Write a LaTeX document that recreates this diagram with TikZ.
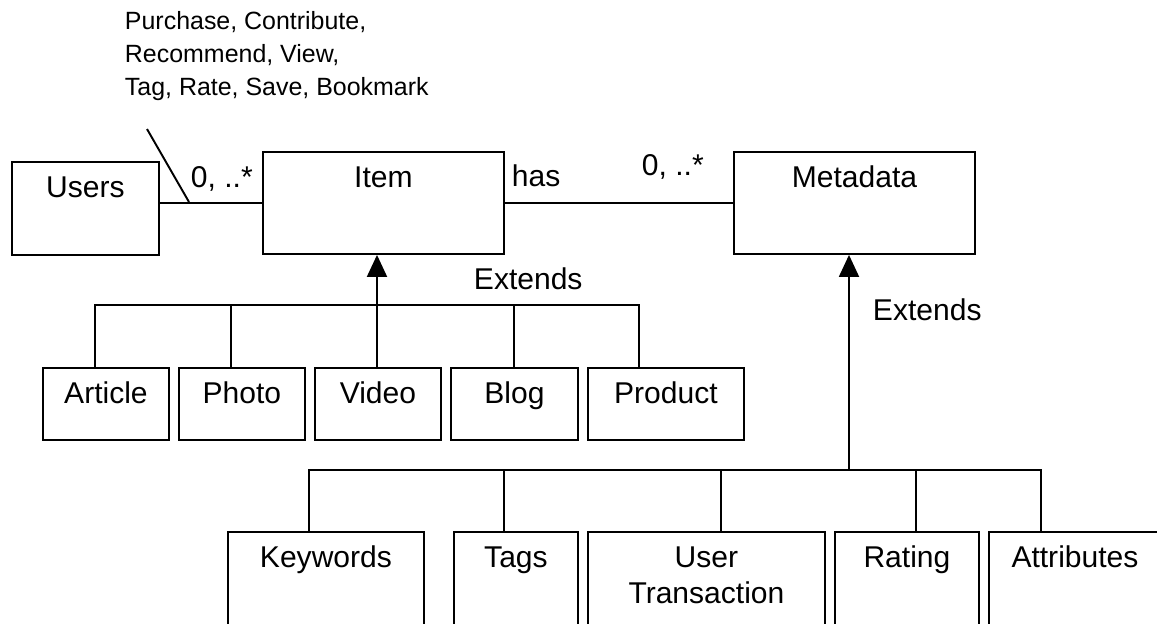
\documentclass[tikz,border=0pt]{standalone}
\usepackage{fontspec}
\setmainfont{Liberation Sans}
\usetikzlibrary{arrows.meta}

\begin{document}
\begin{tikzpicture}[x=0.02cm, y=-0.02cm, line width=1.1pt,
		every node/.style={font=\fontsize{17.1}{20.5}\selectfont, inner sep=0pt},
		cls/.style={draw, anchor=north west, align=center, text height=0.72cm, minimum width=#1},
		ext/.style={-{Triangle[width=0.4cm,length=0.44cm]}}]
		%%%%% START %%%%%
		\useasboundingbox (0,0) rectangle (1157,623);
		
		\node[anchor=base west, align=left, font=\fontsize{14.2}{18.5}\selectfont] (actions) at (124,95) {Purchase, Contribute,\\Recommend, View,\\Tag, Rate, Save, Bookmark};
		
		\node[cls=2.94cm, text depth=1.14cm] (users) at (11,161) {Users};
		\node[cls=4.82cm, text depth=1.32cm] (item) at (262,151) {Item};
		\node[cls=4.82cm, text depth=1.32cm] (metadata) at (733,151) {Metadata};
		
		\node[cls=2.52cm, text depth=0.72cm] (article) at (42,367) {Article};
		\node[cls=2.52cm, text depth=0.72cm] (photo) at (178,367) {Photo};
		\node[cls=2.52cm, text depth=0.72cm] (video) at (314,367) {Video};
		\node[cls=2.54cm, text depth=0.72cm] (blog) at (450,367) {Blog};
		\node[cls=3.12cm, text depth=0.72cm] (product) at (587,367) {Product};
		
		\node[cls=3.92cm, text depth=2.26cm] (keywords) at (227,531) {Keywords};
		\node[cls=2.48cm, text depth=2.26cm] (tags) at (453,531) {Tags};
		\node[cls=4.74cm, text height=1.44cm, text depth=1.54cm] (usertrans) at (587,531) {User\\Transaction};
		\node[cls=2.88cm, text depth=2.26cm] (rating) at (834,531) {Rating};
		\node[cls=3.44cm, text depth=2.26cm] (attributes) at (988,531) {Attributes};
		
		%%%%% ASSOCIATIONS %%%%%
		\draw (users.east |- item.west) -- (item.west);
		\coordinate (note) at (147,129);
		\coordinate (assoc) at (189,202);
		\draw (note) -- (assoc);
		\node[anchor=base west] (umult) at (190,187) {0, ..*};
		
		\draw (item.east) -- (metadata.west);
		\node[anchor=base west] (has) at (511,186) {has};
		\node[anchor=base west] (mmult) at (641,175) {0, ..*};
		
		%%%%% INHERITANCE %%%%%
		\coordinate (ibus) at (377,305);
		\draw[ext] (ibus) -- (ibus |- item.south);
		\foreach \n/\d in {article/53, photo/53, video/63, blog/64, product/52}
			\draw (\n.north west) ++(\d,0) |- (ibus);
		\node[anchor=base west] (iext) at (473,289) {Extends};
		
		\coordinate (mbus) at (849,470);
		\draw[ext] (mbus) -- (mbus |- metadata.south);
		\foreach \n/\d in {keywords/82, tags/51, usertrans/134, rating/82, attributes/53}
			\draw (\n.north west) ++(\d,0) |- (mbus);
		\node[anchor=base west] (mext) at (872,320) {Extends};
		
		%%%%% END %%%%%
	\end{tikzpicture}
\end{document}
